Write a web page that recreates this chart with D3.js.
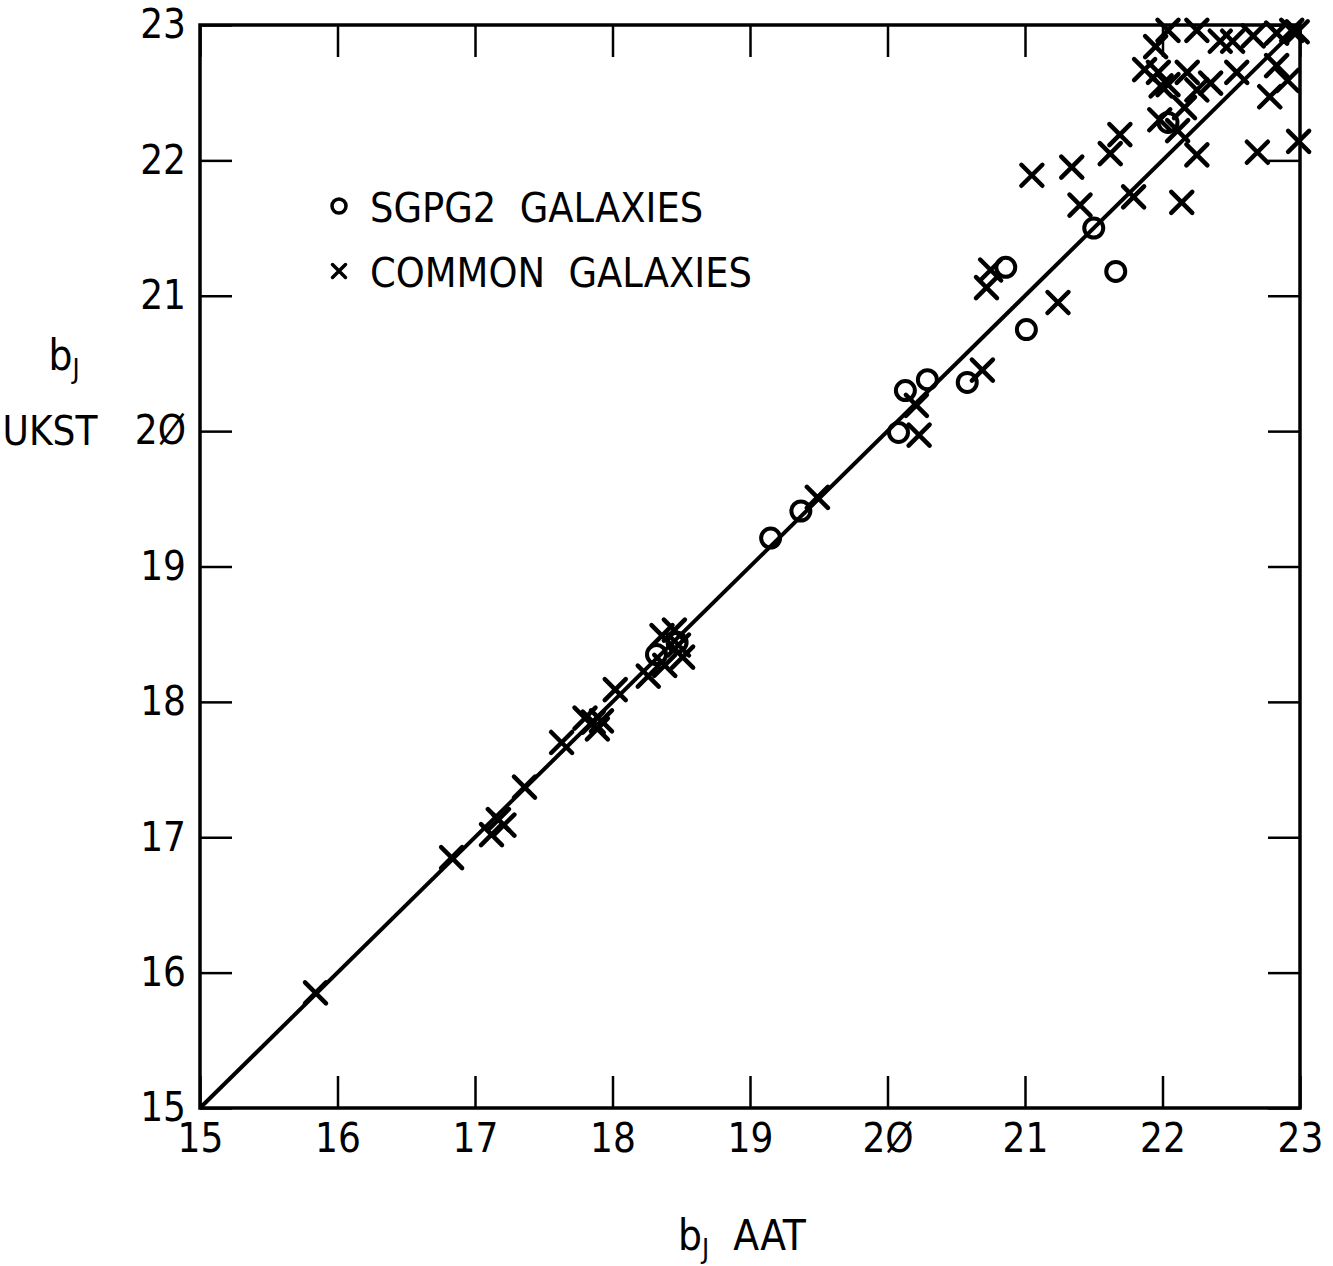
<!DOCTYPE html>
<html>
<head>
<meta charset="utf-8">
<script src="https://cdn.jsdelivr.net/npm/d3@7"></script>
<style>
  html, body { margin: 0; padding: 0; background: #fff; }
  svg text { font-family: "Liberation Sans Narrow", "DejaVu Sans Condensed", "Liberation Sans", sans-serif; fill: #000; }
</style>
</head>
<body>
<svg id="chart" width="1333" height="1266"></svg>
<script>
// ---- data ----
const tickValues = [15, 16, 17, 18, 19, 20, 21, 22, 23];
const tickLabels = ["15", "16", "17", "18", "19", "2Ø", "21", "22", "23"];

// SGPG2 galaxies (circles)
const sgpgAAT  = [18.32, 18.47, 19.15, 19.37, 20.08, 20.13, 20.29, 20.58, 21.01, 20.86, 21.50, 21.66, 22.04];
const sgpgUKST = [18.35, 18.44, 19.21, 19.41, 19.99, 20.30, 20.38, 20.36, 20.75, 21.21, 21.50, 21.18, 22.28];

// Common galaxies (crosses)
const commonAAT = [
  15.84, 16.83, 17.12, 17.17, 17.21, 17.36, 17.63,
  17.80, 17.86, 17.89, 17.92, 18.02,
  18.26, 18.36, 18.45, 18.38, 18.51, 18.48,
  19.49, 20.21, 20.23, 20.69, 20.72, 20.75, 21.24,
  21.05, 21.34, 21.40, 21.62, 21.69, 21.79, 22.14, 21.98, 22.11, 22.16, 22.25,
  21.87, 21.97, 21.99, 22.04, 22.18, 22.25, 22.35, 22.54, 22.83, 22.91, 22.78, 22.69, 22.99,
  21.95, 22.04, 22.25, 22.42, 22.51, 22.66, 22.83, 22.94, 22.98
];
const commonUKST = [
  15.85, 16.85, 17.02, 17.13, 17.09, 17.37, 17.70,
  17.88, 17.85, 17.80, 17.86, 18.09,
  18.19, 18.49, 18.53, 18.27, 18.33, 18.42,
  19.51, 20.19, 19.97, 20.45, 21.06, 21.19, 20.95,
  21.89, 21.95, 21.67, 22.05, 22.19, 21.73, 21.69, 22.30, 22.22, 22.39, 22.04,
  22.67, 22.65, 22.55, 22.56, 22.65, 22.52, 22.57, 22.65, 22.70, 22.59, 22.47, 22.06, 22.14,
  22.84, 22.96, 22.96, 22.88, 22.88, 22.92, 22.94, 22.96, 22.95
];

const legendLabels = ["SGPG2  GALAXIES", "COMMON  GALAXIES"];

// ---- drawing ----
const svg = d3.select("#chart");
const x = d3.scaleLinear().domain([15, 23]).range([200, 1300]);
const y = d3.scaleLinear().domain([15, 23]).range([1108, 25]);

const ink = "#000";
const tickLen = 32;
const fmt = (d) => tickLabels[tickValues.indexOf(d)];

function styleAxis(g, fontSize) {
  g.select(".domain").remove();
  g.selectAll(".tick line").attr("stroke", ink).attr("stroke-width", 2.5);
  g.selectAll(".tick text").style("font-size", fontSize + "px").attr("fill", ink);
}

// bottom
svg.append("g").attr("transform", `translate(0,${y(15)})`)
  .call(d3.axisBottom(x).tickValues(tickValues).tickFormat(fmt).tickSizeInner(-tickLen).tickSizeOuter(0).tickPadding(16))
  .call(g => styleAxis(g, 40));
// top
svg.append("g").attr("transform", `translate(0,${y(23)})`)
  .call(d3.axisTop(x).tickValues(tickValues).tickFormat("").tickSizeInner(-tickLen).tickSizeOuter(0))
  .call(g => styleAxis(g, 40));
// left
svg.append("g").attr("transform", `translate(${x(15)},0)`)
  .call(d3.axisLeft(y).tickValues(tickValues).tickFormat(fmt).tickSizeInner(-tickLen).tickSizeOuter(0).tickPadding(14))
  .call(g => styleAxis(g, 40));
// right
svg.append("g").attr("transform", `translate(${x(23)},0)`)
  .call(d3.axisRight(y).tickValues(tickValues).tickFormat("").tickSizeInner(-tickLen).tickSizeOuter(0))
  .call(g => styleAxis(g, 40));

// frame
svg.append("rect")
  .attr("x", x(15)).attr("y", y(23))
  .attr("width", x(23) - x(15)).attr("height", y(15) - y(23))
  .attr("fill", "none").attr("stroke", ink).attr("stroke-width", 3.5);

// 1:1 line
svg.append("line")
  .attr("x1", x(15)).attr("y1", y(15)).attr("x2", x(23)).attr("y2", y(23))
  .attr("stroke", ink).attr("stroke-width", 4);

// circles
svg.append("g").selectAll("circle")
  .data(sgpgAAT.map((v, i) => [v, sgpgUKST[i]]))
  .join("circle")
  .attr("cx", d => x(d[0])).attr("cy", d => y(d[1]))
  .attr("r", 9.5).attr("fill", "none").attr("stroke", ink).attr("stroke-width", 4);

// crosses
const cs = 10.5;
function crossPath(cx, cy, s) {
  return `M${cx - s},${cy - s}L${cx + s},${cy + s}M${cx - s},${cy + s}L${cx + s},${cy - s}`;
}
svg.append("g").selectAll("path")
  .data(commonAAT.map((v, i) => [v, commonUKST[i]]))
  .join("path")
  .attr("d", d => crossPath(x(d[0]), y(d[1]), cs))
  .attr("fill", "none").attr("stroke", ink).attr("stroke-width", 4.5).attr("stroke-linecap", "round");

// legend
const lg = svg.append("g");
lg.append("circle").attr("cx", 339).attr("cy", 206).attr("r", 7).attr("fill", "none").attr("stroke", ink).attr("stroke-width", 3.5);
lg.append("text").attr("x", 370).attr("y", 222).style("font-size", "41px").style("white-space", "pre").text(legendLabels[0]);
lg.append("path").attr("d", crossPath(339, 271, 6.5)).attr("stroke", ink).attr("stroke-width", 3.5).attr("stroke-linecap", "round");
lg.append("text").attr("x", 370).attr("y", 287).style("font-size", "41px").style("white-space", "pre").text(legendLabels[1]);

// axis titles
const xt = svg.append("text").attr("x", 742).attr("y", 1250).attr("text-anchor", "middle").style("font-size", "42px").style("white-space", "pre");
xt.append("tspan").text("b");
xt.append("tspan").attr("dy", 8).style("font-size", "27px").text("J");
xt.append("tspan").attr("dy", -8).text("  AAT");

const yt = svg.append("text").attr("x", 64).attr("y", 370).attr("text-anchor", "middle").style("font-size", "42px");
yt.append("tspan").text("b");
yt.append("tspan").attr("dy", 8).style("font-size", "27px").text("J");
svg.append("text").attr("x", 50).attr("y", 445).attr("text-anchor", "middle").style("font-size", "40px").text("UKST");
</script>
</body>
</html>
